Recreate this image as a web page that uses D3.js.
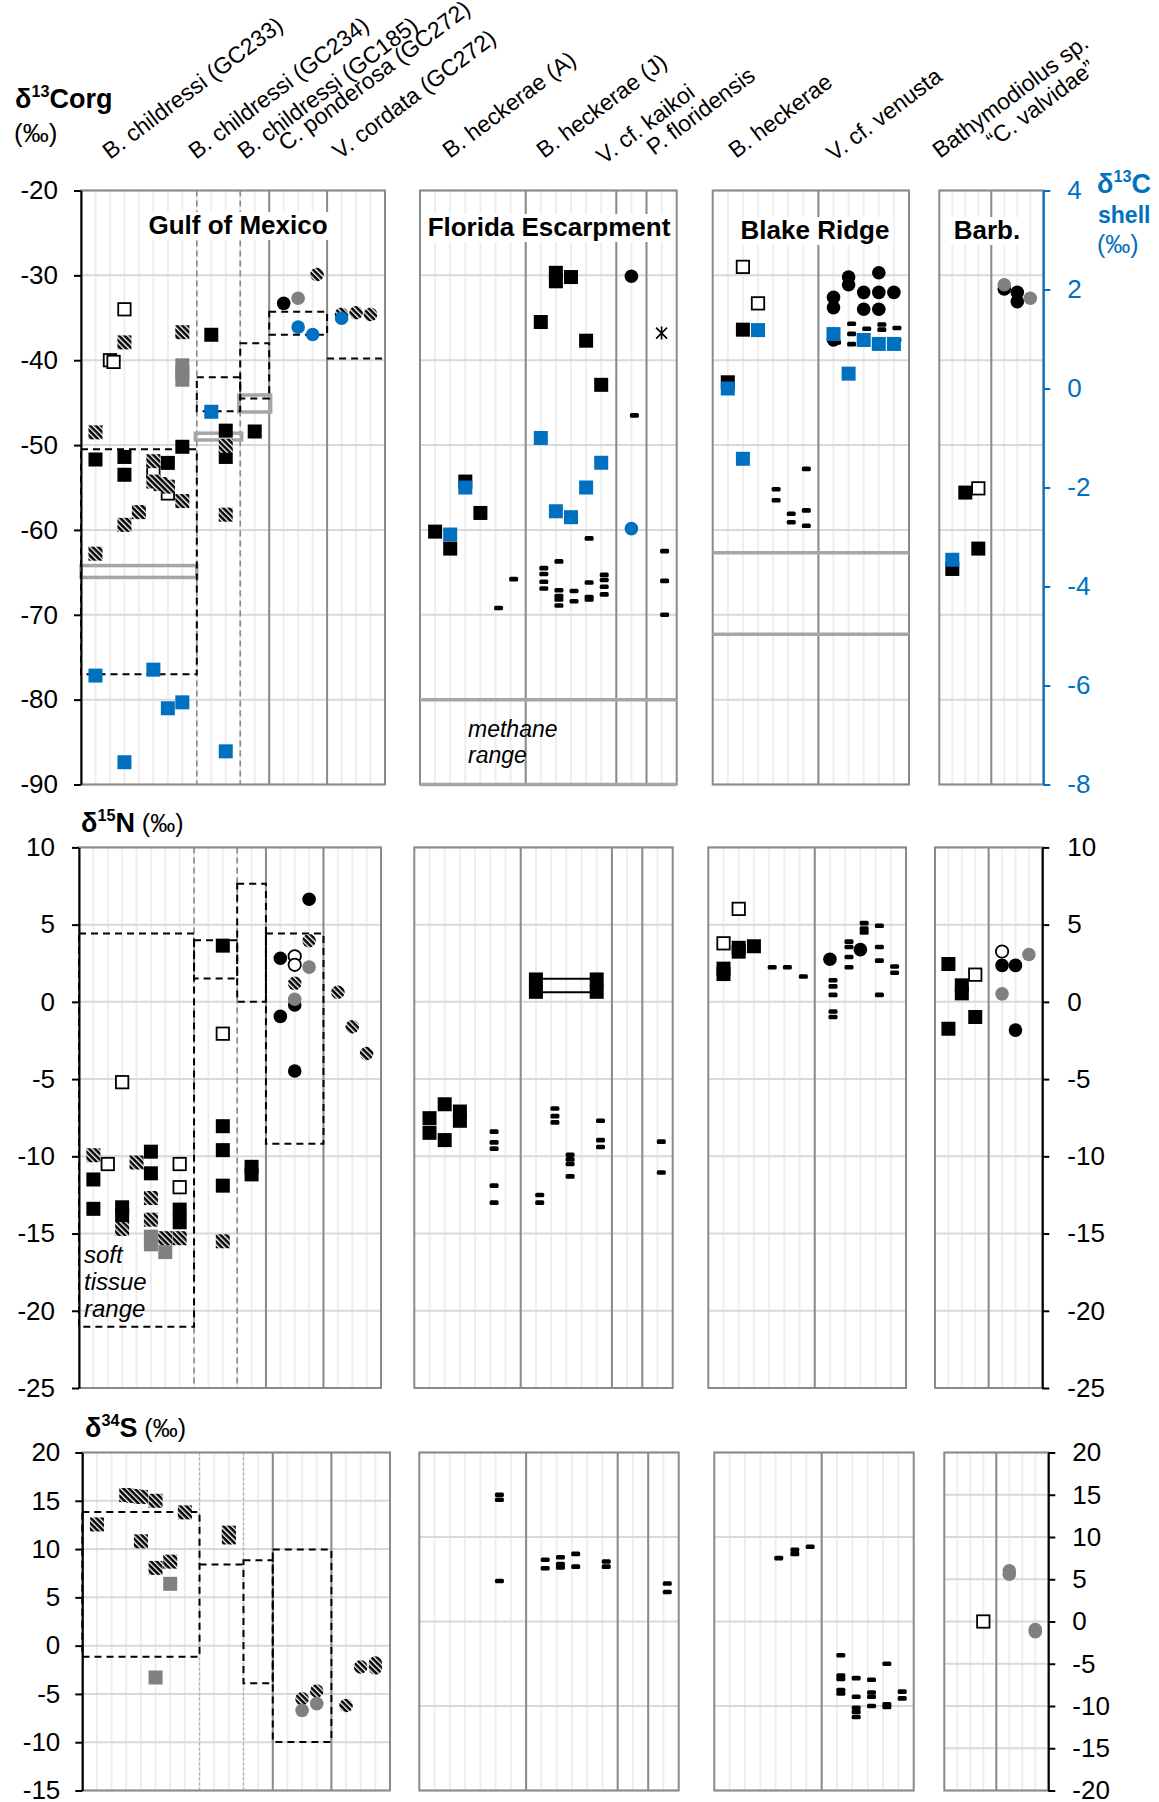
<!DOCTYPE html>
<html><head><meta charset="utf-8">
<script src="https://cdnjs.cloudflare.com/ajax/libs/d3/7.8.5/d3.min.js"></script>
<style>
html,body{margin:0;padding:0;background:#fff;}
svg{display:block;font-family:Arial,"Liberation Sans",Helvetica,sans-serif;}
</style></head>
<body>
<svg id="chart" width="1159" height="1802"></svg>
<script>
// ================= DATA =================
const speciesLabels = ["B. childressi (GC233)","B. childressi (GC234)","B. childressi (GC185)","C. ponderosa (GC272)","V. cordata (GC272)",
  "B. heckerae (A)","B. heckerae (J)","V. cf. kaikoi","P. floridensis","B. heckerae","V. cf. venusta","Bathymodiolus sp.","\u201CC. valvidae\u201D"];
const regionNames = ["Gulf of Mexico","Florida Escarpment","Blake Ridge","Barb."];
const slotCounts = [21,17,13,8];
const speciesBreaks = [[8,11,13,17],[7,13,15],[7],[4]];
const dashedBreaks = [8,11];

const c13Ticks = [-20,-30,-40,-50,-60,-70,-80,-90];
const shellTicks = [4,2,0,-2,-4,-6,-8];
const n15Ticks = [10,5,0,-5,-10,-15,-20,-25];
const s34TicksLeft = [20,15,10,5,0,-5,-10,-15];
const s34TicksRight = [20,15,10,5,0,-5,-10,-15,-20];
const s34GridWide = [20,10,0,-10,-20];

// kinds: sq black square, hs hatched square, os open square, gs grey square, bs blue square (shell)
//        c black circle, hc hatched circle, oc open circle, gc grey circle, bc blue circle (shell)
//        d small dash, x asterisk
// ---- d13C (tissue, left axis) ----
const c13GoM = [
 [1,-51.7,'sq'],[3,-51.4,'sq'],[3,-53.5,'sq'],[6,-52.1,'sq'],[7,-50.2,'sq'],[9,-37.0,'sq'],[10,-48.3,'sq'],[10,-51.4,'sq'],[12,-48.4,'sq'],
 [1,-48.5,'hs'],[1,-62.8,'hs'],[3,-37.9,'hs'],[3,-59.4,'hs'],[4,-57.9,'hs'],[5,-51.9,'hs'],[5,-54.3,'hs'],[5.5,-54.6,'hs'],[6,-54.9,'hs'],[7,-56.6,'hs'],[7,-36.7,'hs'],[10,-50.1,'hs'],[10,-58.2,'hs'],
 [3,-34.0,'os'],[2,-40.0,'os'],[2.25,-40.2,'os'],[5,-53.2,'os'],[6,-55.7,'os'],
 [7,-40.6,'gs'],[7,-41.5,'gs'],[7,-42.3,'gs'],
 [14,-33.3,'c'],[15,-32.7,'gc'],[16.3,-29.9,'hc'],[18,-34.6,'hc'],[19,-34.4,'hc'],[20,-34.6,'hc']
];
const c13FE = [
 [1,-60.2,'sq'],[2,-62.2,'sq'],[3,-54.3,'sq'],[4,-58.0,'sq'],[8,-35.5,'sq'],[9,-29.7,'sq'],[9,-30.7,'sq'],[10,-30.2,'sq'],[11,-37.7,'sq'],[12,-42.9,'sq'],
 [14,-30.1,'c'],[16,-36.8,'x'],
 [14.2,-46.5,'d'],[6.2,-65.8,'d'],[5.2,-69.2,'d'],
 [8.2,-64.5,'d'],[8.2,-65.2,'d'],[8.2,-66.1,'d'],[8.2,-66.9,'d'],
 [9.2,-63.7,'d'],[9.2,-67.1,'d'],[9.2,-67.8,'d'],[9.2,-68.2,'d'],[9.2,-68.9,'d'],
 [10.2,-67.2,'d'],[10.2,-68.4,'d'],
 [11.2,-61.0,'d'],[11.2,-66.2,'d'],[11.2,-67.9,'d'],[11.2,-68.2,'d'],
 [12.2,-65.3,'d'],[12.2,-65.9,'d'],[12.2,-66.7,'d'],[12.2,-67.6,'d'],
 [16.2,-62.5,'d'],[16.2,-66.0,'d'],[16.2,-70.0,'d']
];
const c13BR = [
 [2,-36.4,'sq'],[1,-42.6,'sq'],[2,-29.0,'os'],[3,-33.3,'os'],
 [8,-32.6,'c'],[8,-33.8,'c'],[8,-37.6,'c'],[9,-30.2,'c'],[9,-31.1,'c'],[10,-32.0,'c'],[10,-34.0,'c'],[11,-29.7,'c'],[11,-32.0,'c'],[11,-34.0,'c'],[12,-32.0,'c'],
 [9.2,-35.7,'d'],[9.2,-36.9,'d'],[9.2,-38.1,'d'],[10.2,-36.3,'d'],[11.2,-35.8,'d'],[11.2,-36.4,'d'],[12.2,-36.2,'d'],[12.2,-37.6,'d'],[8.2,-37.9,'d'],
 [4.2,-55.2,'d'],[4.2,-56.5,'d'],[5.2,-58.1,'d'],[5.2,-59.1,'d'],[6.2,-52.8,'d'],[6.2,-57.7,'d'],[6.2,-59.5,'d']
];
const c13Barb = [
 [1,-64.6,'sq'],[2,-55.6,'sq'],[3,-62.2,'sq'],[3,-55.1,'os'],
 [5,-31.6,'c'],[6,-32.0,'c'],[6,-33.1,'c'],[5,-31.1,'gc'],[7,-32.7,'gc']
];
// ---- d13C shell (right blue axis) ----
const shellGoM = [[9,-0.47,'bs'],[1,-5.80,'bs'],[5,-5.68,'bs'],[6,-6.46,'bs'],[7,-6.34,'bs'],[3,-7.55,'bs'],[10,-7.33,'bs'],[15,1.24,'bc'],[16,1.09,'bc'],[18,1.42,'bc']];
const shellFE = [[2,-2.95,'bs'],[3,-2.0,'bs'],[8,-1.0,'bs'],[12,-1.5,'bs'],[11,-2.0,'bs'],[9,-2.48,'bs'],[10,-2.6,'bs'],[14,-2.83,'bc']];
const shellBR = [[3,1.18,'bs'],[1,0.0,'bs'],[2,-1.42,'bs'],[8,1.10,'bs'],[10,0.98,'bs'],[11,0.90,'bs'],[12,0.90,'bs'],[9,0.30,'bs']];
const shellBarb = [[1,-3.46,'bs']];

// ---- d15N ----
const n15GoM = [
 [1,-11.5,'sq'],[1,-13.4,'sq'],[3,-13.3,'sq'],[3,-13.8,'sq'],[5,-9.7,'sq'],[5,-11.1,'sq'],[7,-13.45,'sq'],[7,-14.27,'sq'],[10,3.64,'sq'],[10,-8.05,'sq'],[10,-9.6,'sq'],[10,-11.9,'sq'],[12,-10.68,'sq'],[12,-11.17,'sq'],
 [1,-9.93,'hs'],[3,-14.7,'hs'],[4,-10.4,'hs'],[5,-12.7,'hs'],[5,-14.1,'hs'],[6,-15.3,'hs'],[7,-15.3,'hs'],[10,-15.5,'hs'],
 [2,-10.5,'os'],[3,-5.2,'os'],[7,-10.5,'os'],[7,-12.0,'os'],[10,-2.06,'os'],
 [5,-15.2,'gs'],[5,-15.7,'gs'],[6,-16.2,'gs'],
 [14,2.82,'c'],[14,-0.94,'c'],[15,-0.2,'c'],[15,-4.48,'c'],[16,6.64,'c'],
 [15,2.95,'oc'],[15,2.4,'oc'],
 [15,1.2,'hc'],[16,3.96,'hc'],[18,0.62,'hc'],[19,-1.61,'hc'],[20,-3.34,'hc'],
 [15,0.17,'gc'],[16,2.25,'gc']
];
const n15FE = [
 [1,-7.53,'sq'],[1,-8.48,'sq'],[2,-6.63,'sq'],[2,-8.95,'sq'],[3,-7.1,'sq'],[3,-7.7,'sq'],[8,1.45,'sq'],[8,0.65,'sq'],[12,1.45,'sq'],[12,0.65,'sq'],
 [5.25,-8.4,'d'],[5.25,-9.1,'d'],[5.25,-9.5,'d'],[5.25,-11.9,'d'],[5.25,-13.0,'d'],
 [9.25,-6.9,'d'],[9.25,-7.4,'d'],[9.25,-7.8,'d'],[8.25,-12.5,'d'],[8.25,-13.0,'d'],
 [10.25,-9.9,'d'],[10.25,-10.2,'d'],[10.25,-10.5,'d'],[10.25,-11.3,'d'],
 [12.25,-7.7,'d'],[12.25,-8.95,'d'],[12.25,-9.4,'d'],[16.25,-9.05,'d'],[16.25,-11.05,'d']
];
const n15FELinks = [[8,12,1.5],[8,12,0.62]];
const n15BR = [
 [2,6.02,'os'],[1,3.79,'os'],
 [2,3.5,'sq'],[2,3.25,'sq'],[3,3.6,'sq'],[1,2.15,'sq'],[1,1.8,'sq'],
 [8,2.76,'c'],[10,3.38,'c'],
 [4.2,2.24,'d'],[5.2,2.24,'d'],[6.25,1.64,'d'],
 [8.2,1.4,'d'],[8.2,1.0,'d'],[8.2,0.45,'d'],[8.2,-0.62,'d'],[8.2,-0.98,'d'],
 [9.25,3.9,'d'],[9.25,3.55,'d'],[9.25,2.9,'d'],[9.25,2.24,'d'],
 [10.25,5.1,'d'],[10.25,4.74,'d'],[10.25,4.5,'d'],
 [11.25,4.93,'d'],[11.25,3.55,'d'],[11.25,2.67,'d'],[11.25,0.45,'d'],
 [12.25,2.29,'d'],[12.25,1.88,'d']
];
const n15Barb = [
 [1,2.45,'sq'],[1,-1.74,'sq'],[2,1.07,'sq'],[2,0.55,'sq'],[3,-0.98,'sq'],
 [3,1.76,'os'],[5,3.26,'oc'],
 [5,2.36,'c'],[6,2.36,'c'],[6,-1.83,'c'],
 [7,3.07,'gc'],[5,0.52,'gc']
];
// ---- d34S ----
const s34GoM = [
 [1,12.55,'hs'],[3,15.6,'hs'],[3.5,15.5,'hs'],[4,15.4,'hs'],[5,15.0,'hs'],[7,13.8,'hs'],[4,10.8,'hs'],[5,8.05,'hs'],[6,8.7,'hs'],[10,11.7,'hs'],[10,11.2,'hs'],
 [6,6.4,'gs'],[5,-3.3,'gs'],
 [15,-5.5,'hc'],[16,-4.7,'hc'],[18,-6.2,'hc'],[19,-2.2,'hc'],[20,-1.8,'hc'],[20,-2.3,'hc'],
 [15,-6.7,'gc'],[16,-6.0,'gc']
];
const s34FE = [
 [5.25,15.0,'d'],[5.25,14.4,'d'],[5.25,4.8,'d'],[8.25,7.3,'d'],[8.25,6.3,'d'],[9.25,7.6,'d'],[9.25,6.8,'d'],[9.25,6.4,'d'],
 [10.25,8.0,'d'],[10.25,6.5,'d'],[12.25,7.1,'d'],[12.25,6.5,'d'],[16.25,4.5,'d'],[16.25,3.5,'d']
];
const s34BR = [
 [4.2,7.5,'d'],[5.25,8.0,'d'],[5.25,8.5,'d'],[6.25,8.85,'d'],
 [8.25,-4.0,'d'],[8.25,-6.4,'d'],[8.25,-6.8,'d'],[8.25,-8.1,'d'],[8.25,-8.5,'d'],
 [9.25,-6.7,'d'],[9.25,-8.9,'d'],[9.25,-10.2,'d'],[9.25,-10.7,'d'],[9.25,-11.3,'d'],
 [10.25,-6.9,'d'],[10.25,-8.4,'d'],[10.25,-8.9,'d'],[10.25,-10.0,'d'],
 [11.25,-5.0,'d'],[11.25,-9.8,'d'],[11.25,-10.1,'d'],[12.25,-8.3,'d'],[12.25,-9.1,'d']
];
const s34Barb = [[3,0,'os'],[5,6.0,'gc'],[5,5.6,'gc'],[7,-0.95,'gc'],[7,-1.2,'gc']];

// ---- ranges: [x0,x1,yTop,yBottom] ----
const c13GoMRanges = [[0,8,-50.5,-77.0],[8,11,-42.0,-46.0],[11,13,-38.0,-44.5],[13,17,-34.3,-37.0]];
const c13GoMRangeLines = [[17,21,-39.8]];
const c13GoMMethane = [[0,8,-64.2,-65.6],[7.9,11.1,-48.6,-49.4],[10.9,13.1,-44.1,-46.1]];
const c13FEMethane = [[0,17,-80],[0,17,-90]];
const c13BRMethane = [[0,13,-62.7],[0,13,-72.3]];
const n15GoMRanges = [[0,8,4.43,-21.03],[8,11,3.99,1.51],[11,13,7.65,0],[13,17,4.43,-9.19]];
const s34GoMRanges = [[0,8,13.85,-1.14],[11,13,8.85,-3.9],[13,17,9.95,-9.97]];
const s34GoMRangeLines = [[8,11,8.4]];

// ================= LAYOUT =================
const FONT = 'Arial, "Liberation Sans", Helvetica, sans-serif';
const BLUE = '#0070C0';
const FRAMES = [
 [[81,385],[420,676.7],[712.7,909],[939.3,1043.3]],
 [[79,381],[414.3,672.7],[708.3,906],[935,1042.3]],
 [[82.3,390],[419.3,678.7],[714.3,913.7],[944.3,1048.3]]
];
const ROW_Y = [[190.5,784.5],[847.4,1388],[1452.5,1790.5]];
const Y_DOM = [
 [[-90,-20],[-90,-20],[-90,-20],[-90,-20]],
 [[-25,10],[-25,10],[-25,10],[-25,10]],
 [[-15,20],[-20,20],[-20,20],[-20,20]]
];
const HGRID = [
 [c13Ticks,c13Ticks,c13Ticks,c13Ticks],
 [n15Ticks,n15Ticks,n15Ticks,n15Ticks],
 [s34TicksLeft,s34GridWide,s34GridWide,s34TicksRight]
];
const DATA = [[c13GoM,c13FE,c13BR,c13Barb],[n15GoM,n15FE,n15BR,n15Barb],[s34GoM,s34FE,s34BR,s34Barb]];
const SHELL = [shellGoM,shellFE,shellBR,shellBarb];

// ================= DRAW =================
const svg = d3.select('#chart');
const defs = svg.append('defs');
const hp = defs.append('pattern').attr('id','hatch').attr('patternUnits','userSpaceOnUse')
  .attr('width',4).attr('height',4).attr('patternTransform','rotate(-45)');
hp.append('rect').attr('width',4).attr('height',4).attr('fill','#000');
hp.append('rect').attr('width',1.4).attr('height',4).attr('fill','#fff');

const gBack = svg.append('g');
const gRange = svg.append('g');
const gMarks = svg.append('g');
const gAxes = svg.append('g');
const gText = svg.append('g');

const P = [];
FRAMES.forEach((row,ri)=>{
  P[ri]=[];
  row.forEach((f,pi)=>{
    const [top,bottom]=ROW_Y[ri];
    const x=d3.scaleLinear().domain([0,slotCounts[pi]]).range(f);
    const y=d3.scaleLinear().domain(Y_DOM[ri][pi]).range([bottom,top]);
    P[ri][pi]={x,y,x0:f[0],x1:f[1],top,bottom,slots:slotCounts[pi]};
  });
});

P.forEach((row,ri)=>row.forEach((p,pi)=>{
  const g=gBack.append('g');
  g.selectAll(null).data(d3.range(1,p.slots)).join('line')
    .attr('x1',d=>p.x(d)).attr('x2',d=>p.x(d)).attr('y1',p.top).attr('y2',p.bottom)
    .attr('stroke','#eeeeee').attr('stroke-width',2);
  g.selectAll(null).data(HGRID[ri][pi]).join('line')
    .attr('x1',p.x0).attr('x2',p.x1).attr('y1',d=>p.y(d)).attr('y2',d=>p.y(d))
    .attr('stroke','#d9d9d9').attr('stroke-width',2);
  const isDash=d=>pi===0&&dashedBreaks.includes(d);
  g.selectAll(null).data(speciesBreaks[pi]).join('line')
    .attr('x1',d=>p.x(d)).attr('x2',d=>p.x(d)).attr('y1',p.top).attr('y2',p.bottom)
    .attr('stroke',d=>isDash(d)&&ri===2?'#b0b0b0':'#8a8a8a')
    .attr('stroke-width',d=>isDash(d)?(ri===2?1.2:1.6):2)
    .attr('stroke-dasharray',d=>isDash(d)?(ri===2?'3,2':'6,4'):null);
  g.append('rect').attr('x',p.x0).attr('y',p.top).attr('width',p.x1-p.x0).attr('height',p.bottom-p.top)
    .attr('fill','none').attr('stroke','#8a8a8a').attr('stroke-width',2);
}));

function greyBoxes(p,arr){
  gRange.selectAll(null).data(arr).join('rect')
    .attr('x',d=>p.x(d[0])).attr('y',d=>p.y(d[2]))
    .attr('width',d=>p.x(d[1])-p.x(d[0])).attr('height',d=>p.y(d[3])-p.y(d[2]))
    .attr('fill','none').attr('stroke','#a6a6a6').attr('stroke-width',3.5);
}
function greyLines(p,arr){
  gRange.selectAll(null).data(arr).join('line')
    .attr('x1',d=>p.x(d[0])).attr('x2',d=>p.x(d[1])).attr('y1',d=>p.y(d[2])).attr('y2',d=>p.y(d[2]))
    .attr('stroke','#a6a6a6').attr('stroke-width',3.5);
}
greyBoxes(P[0][0],c13GoMMethane);
greyLines(P[0][1],c13FEMethane);
greyLines(P[0][2],c13BRMethane);

function dashBoxes(p,arr){
  gRange.selectAll(null).data(arr).join('rect')
    .attr('x',d=>p.x(d[0])).attr('y',d=>p.y(d[2]))
    .attr('width',d=>p.x(d[1])-p.x(d[0])).attr('height',d=>p.y(d[3])-p.y(d[2]))
    .attr('fill','none').attr('stroke','#000').attr('stroke-width',2).attr('stroke-dasharray','7,5');
}
function dashLines(p,arr){
  gRange.selectAll(null).data(arr).join('line')
    .attr('x1',d=>p.x(d[0])).attr('x2',d=>p.x(d[1])).attr('y1',d=>p.y(d[2])).attr('y2',d=>p.y(d[2]))
    .attr('stroke','#000').attr('stroke-width',2).attr('stroke-dasharray','7,5');
}
dashBoxes(P[0][0],c13GoMRanges); dashLines(P[0][0],c13GoMRangeLines);
dashBoxes(P[1][0],n15GoMRanges);
dashBoxes(P[2][0],s34GoMRanges); dashLines(P[2][0],s34GoMRangeLines);

gMarks.selectAll(null).data(n15FELinks).join('line')
  .attr('x1',d=>P[1][1].x(d[0])).attr('x2',d=>P[1][1].x(d[1]))
  .attr('y1',d=>P[1][1].y(d[2])).attr('y2',d=>P[1][1].y(d[2]))
  .attr('stroke','#000').attr('stroke-width',2);

const ORDER=['d','os','oc','sq','hs','c','hc','gs','gc','bs','bc','x'];
const FILL={sq:'#000',hs:'url(#hatch)',os:'#fff',gs:'#808080',bs:BLUE,c:'#000',hc:'url(#hatch)',oc:'#fff',gc:'#808080',bc:BLUE,d:'#000'};
function drawMarks(p,yScale,pts){
  ORDER.forEach(k=>{
    const sub=pts.filter(d=>d[2]===k);
    if(!sub.length) return;
    const g=gMarks.append('g');
    if(['sq','hs','gs','bs'].includes(k)){
      g.selectAll(null).data(sub).join('rect')
        .attr('x',d=>p.x(d[0])-7).attr('y',d=>yScale(d[1])-7).attr('width',14).attr('height',14).attr('fill',FILL[k]);
    } else if(k==='os'){
      g.selectAll(null).data(sub).join('rect')
        .attr('x',d=>p.x(d[0])-6.2).attr('y',d=>yScale(d[1])-6.2).attr('width',12.4).attr('height',12.4)
        .attr('fill','#fff').attr('stroke','#000').attr('stroke-width',1.8);
    } else if(['c','hc','gc','bc'].includes(k)){
      g.selectAll(null).data(sub).join('circle')
        .attr('cx',d=>p.x(d[0])).attr('cy',d=>yScale(d[1])).attr('r',6.8).attr('fill',FILL[k]);
    } else if(k==='oc'){
      g.selectAll(null).data(sub).join('circle')
        .attr('cx',d=>p.x(d[0])).attr('cy',d=>yScale(d[1])).attr('r',6.2)
        .attr('fill','#fff').attr('stroke','#000').attr('stroke-width',1.8);
    } else if(k==='d'){
      g.selectAll(null).data(sub).join('rect')
        .attr('x',d=>p.x(d[0])-4.5).attr('y',d=>yScale(d[1])-2.3).attr('width',9).attr('height',4.6).attr('rx',1.5)
        .attr('fill','#000');
    } else if(k==='x'){
      g.selectAll(null).data(sub).join('path')
        .attr('transform',d=>`translate(${p.x(d[0])},${yScale(d[1])})`)
        .attr('d','M-5.5,-5.5L5.5,5.5M-5.5,5.5L5.5,-5.5M0,-6.5L0,6.5')
        .attr('stroke','#000').attr('stroke-width',1.6).attr('fill','none');
    }
  });
}
const shellScale = d3.scaleLinear().domain([-8,4]).range([ROW_Y[0][1],ROW_Y[0][0]]);
DATA.forEach((row,ri)=>row.forEach((pts,pi)=>{
  drawMarks(P[ri][pi],P[ri][pi].y,pts);
  if(ri===0) drawMarks(P[0][pi],shellScale,SHELL[pi]);
}));

function styleAxis(g,color){
  g.attr('font-size',26).attr('font-family',FONT);
  g.select('.domain').attr('stroke',color).attr('stroke-width',2);
  g.selectAll('.tick line').attr('stroke',color).attr('stroke-width',2);
  g.selectAll('.tick text').attr('fill',color);
}
function leftAxis(p,ticks,pad){
  const ax=d3.axisLeft(p.y).tickValues(ticks).tickSize(7).tickSizeOuter(0).tickPadding(pad).tickFormat(d=>String(d));
  styleAxis(gAxes.append('g').attr('transform',`translate(${p.x0},0)`).call(ax),'#000');
}
function rightAxis(p,scale,ticks,pad,color){
  const ax=d3.axisRight(scale).tickValues(ticks).tickSize(7).tickSizeOuter(0).tickPadding(pad).tickFormat(d=>String(d));
  styleAxis(gAxes.append('g').attr('transform',`translate(${p.x1},0)`).call(ax),color);
}
leftAxis(P[0][0],c13Ticks,16);
leftAxis(P[1][0],n15Ticks,17);
leftAxis(P[2][0],s34TicksLeft,15);
rightAxis(P[0][3],shellScale,shellTicks,17,BLUE);
rightAxis(P[1][3],P[1][3].y,n15Ticks,18,'#000');
rightAxis(P[2][3],P[2][3].y,s34TicksRight,17,'#000');

const titlePos=[[238,234],[549,236],[815,239],[987,239]];
regionNames.forEach((n,i)=>{
  const t=gText.append('text').attr('x',titlePos[i][0]).attr('y',titlePos[i][1]).attr('text-anchor','middle')
    .attr('font-family',FONT).attr('font-weight','bold').attr('font-size',26).text(n);
  const b=t.node().getBBox();
  gText.insert('rect','text').attr('x',b.x-4).attr('y',b.y+2).attr('width',b.width+8).attr('height',b.height-2).attr('fill','#fff');
});

const labelPos=[[110,160],[196,160],[245,160],[286,152],[340,160],[450,159],[544,159],[604,165],[654,156],[736,159],[834,162],[940,159],[994,149]];
speciesLabels.forEach((s,i)=>{
  gText.append('text').attr('transform',`translate(${labelPos[i][0]},${labelPos[i][1]}) rotate(-37)`)
    .attr('font-family',FONT).attr('font-size',23).text(s);
});

function titleSup(x,y,base,sup,rest,color,fs){
  const t=gText.append('text').attr('x',x).attr('y',y).attr('font-family',FONT).attr('font-weight','bold')
    .attr('font-size',fs).attr('fill',color);
  t.append('tspan').text(base);
  t.append('tspan').attr('font-size',fs*0.6).attr('dy',-fs*0.42).text(sup);
  t.append('tspan').attr('dy',fs*0.42).text(rest);
  return t;
}
titleSup(15,108,'\u03B4','13','Corg','#000',27);
gText.append('text').attr('x',14).attr('y',142).attr('font-family',FONT).attr('font-size',26).text('(\u2030)');
const tn=titleSup(81,832,'\u03B4','15','N','#000',27);
tn.append('tspan').attr('font-weight','normal').attr('font-size',25).text(' (\u2030)');
const ts=titleSup(85,1437,'\u03B4','34','S','#000',27);
ts.append('tspan').attr('font-weight','normal').attr('font-size',25).text(' (\u2030)');
titleSup(1097,193,'\u03B4','13','C',BLUE,27);
gText.append('text').attr('x',1098).attr('y',223).attr('font-family',FONT).attr('font-weight','bold').attr('font-size',23).attr('fill',BLUE).text('shell');
gText.append('text').attr('x',1097).attr('y',253).attr('font-family',FONT).attr('font-size',25).attr('fill',BLUE).text('(\u2030)');

const ann=[["methane",468,737,23],["range",468,763,23],["soft",84,1263,24],["tissue",84,1290,24],["range",84,1317,24]];
ann.forEach(a=>{
  gText.append('text').attr('x',a[1]).attr('y',a[2]).attr('font-family',FONT).attr('font-style','italic')
    .attr('font-size',a[3]).text(a[0]);
});
</script>
</body></html>
